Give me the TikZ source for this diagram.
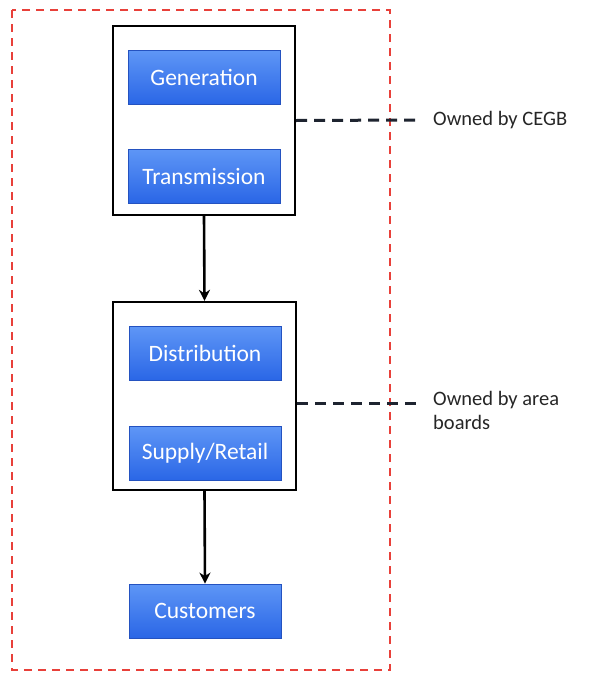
\documentclass[tikz,border=0pt]{standalone}
\usepackage{fontspec}
\setmainfont{Carlito}
\usetikzlibrary{arrows.meta}
\definecolor{btop}{HTML}{5E96F6}
\definecolor{bbot}{HTML}{2A66E6}
\definecolor{bedge}{HTML}{2452C0}
\definecolor{redd}{HTML}{E8403A}
\definecolor{dashc}{HTML}{1E2430}
\tikzset{
  bluebox/.style={draw=bedge, line width=0.8pt, top color=btop, bottom color=bbot,
    minimum width=152pt, minimum height=54pt, text=white, font=\fontsize{23.5}{27}\selectfont, inner sep=0pt},
  groupbox/.style={draw=black, line width=2.4pt, fill=white},
  flow/.style={draw=black, line width=2.6pt, -{Stealth[length=11pt,width=11pt]}},
  owner/.style={draw=dashc, line width=3pt, dash pattern=on 11pt off 7pt},
  lbl/.style={anchor=west, font=\fontsize{20.5}{24}\selectfont, text=black!85, align=left, inner sep=0pt},
}
\begin{document}
\begin{tikzpicture}[x=1pt,y=-1pt]
\useasboundingbox (0,0) rectangle (593,675);
% red dashed frame
\draw[redd, line width=2pt, dash pattern=on 8pt off 6pt] (12,10) rectangle (390,670);
% group boxes
\node[groupbox, minimum width=182pt, minimum height=189pt, inner sep=0pt] (g1) at (204,120.5) {};
\node[groupbox, minimum width=183pt, minimum height=188pt, inner sep=0pt] (g2) at (204.5,396) {};
% blue boxes
\node[bluebox] (gen) at (204,77.5) {Generation};
\node[bluebox] (tra) at (204,176) {Transmission};
\node[bluebox] (dis) at (205,353.5) {Distribution};
\node[bluebox] (sup) at (205,453.5) {Supply/Retail};
\node[bluebox] (cus) at (205,611) {Customers};
% arrows
\draw[flow] (g1.south) -- (g2.north);
\draw[flow] (g2.south) -- (cus.north);
% owner labels
\node[lbl] (o1) at (433,120) {Owned by CEGB};
\node[lbl] (o2) at (433,410) {Owned by area\\boards};
\coordinate (c1) at (418,120);
\coordinate (c2) at (418,403);
\draw[owner] (g1.east) -- (c1);
\draw[owner] (g2.east |- c2) -- (c2);
\end{tikzpicture}
\end{document}
